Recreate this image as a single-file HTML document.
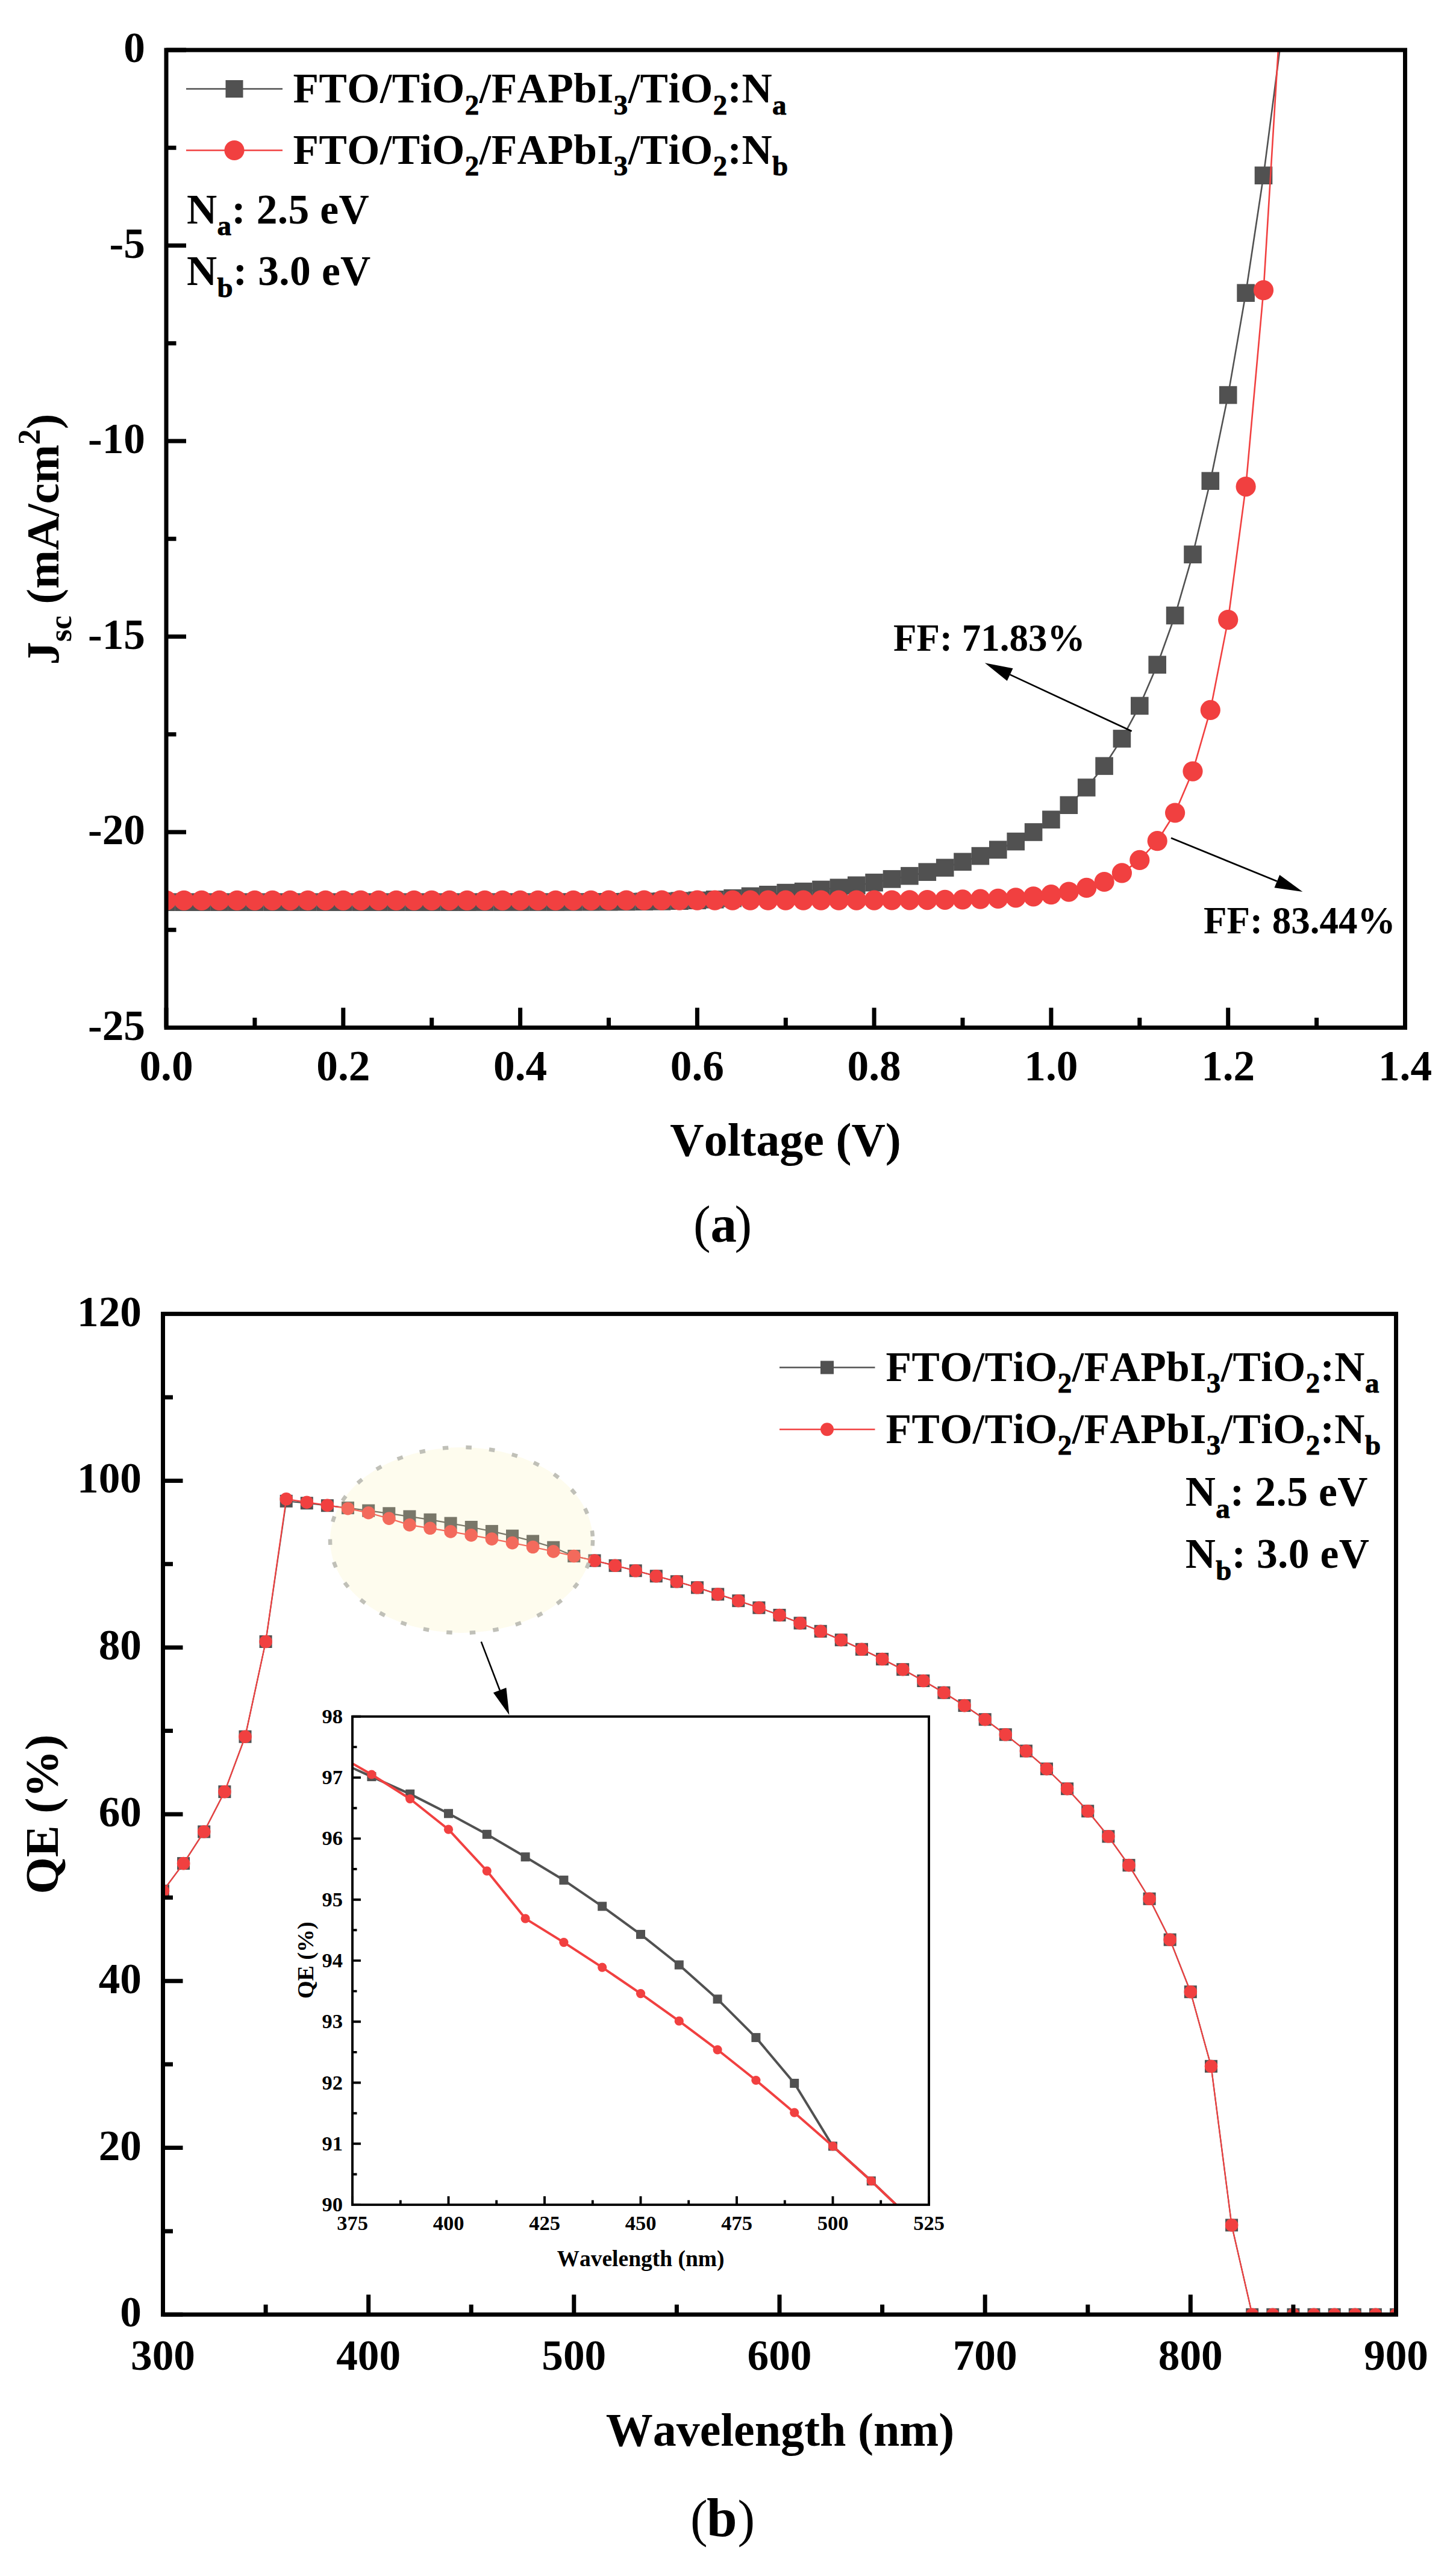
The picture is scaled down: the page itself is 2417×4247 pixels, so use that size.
<!DOCTYPE html>
<html lang="en"><head><meta charset="utf-8"><title>J-V and QE curves</title>
<style>html,body{margin:0;padding:0;background:#fff}svg{display:block}text{font-family:"Liberation Serif",serif;font-weight:bold;fill:#000;font-kerning:none}.cap{font-weight:normal}</style></head><body>
<svg width="2417" height="4247" viewBox="0 0 2417 4247">
<rect width="2417" height="4247" fill="#fff"/>
<defs>
<clipPath id="ca"><rect x="276" y="83" width="2056.5" height="1622.5"/></clipPath>
<clipPath id="cb"><rect x="270.5" y="2180.6" width="2047" height="1660.7"/></clipPath>
<clipPath id="ci"><rect x="585" y="2848.8" width="957" height="810.3"/></clipPath>
</defs>
<g clip-path="url(#ca)">
<polyline fill="none" stroke="#515151" stroke-width="2.6" stroke-linejoin="round" points="276.0,1497.2 305.4,1497.2 334.8,1497.2 364.1,1497.2 393.5,1497.2 422.9,1497.2 452.3,1497.2 481.7,1497.2 511.0,1497.2 540.4,1497.2 569.8,1497.2 599.2,1497.2 628.5,1497.2 657.9,1497.2 687.3,1497.2 716.7,1497.2 746.1,1497.2 775.4,1497.2 804.8,1497.1 834.2,1497.1 863.6,1497.1 893.0,1497.1 922.3,1497.1 951.7,1497.0 981.1,1496.9 1010.5,1496.8 1039.8,1496.6 1069.2,1496.3 1098.6,1495.9 1128.0,1495.2 1157.4,1494.3 1186.7,1492.8 1216.1,1490.7 1245.5,1487.4 1274.9,1484.8 1304.2,1481.6 1333.6,1479.6 1363.0,1476.4 1392.4,1473.2 1421.8,1469.3 1451.1,1464.7 1480.5,1458.9 1509.9,1453.7 1539.3,1447.2 1568.7,1440.1 1598.0,1430.3 1627.4,1420.6 1656.8,1410.2 1686.2,1396.6 1715.5,1381.0 1744.9,1360.2 1774.3,1336.2 1803.7,1307.0 1833.1,1271.3 1862.4,1225.9 1891.8,1171.4 1921.2,1103.2 1950.6,1021.5 1980.0,920.2 2009.3,798.2 2038.7,655.6 2068.1,486.2 2097.5,291.2 2126.9,63.7" />
<rect x="261.2" y="1482.4" width="29.6" height="29.6" fill="#515151"/><rect x="290.6" y="1482.4" width="29.6" height="29.6" fill="#515151"/><rect x="320.0" y="1482.4" width="29.6" height="29.6" fill="#515151"/><rect x="349.3" y="1482.4" width="29.6" height="29.6" fill="#515151"/><rect x="378.7" y="1482.4" width="29.6" height="29.6" fill="#515151"/><rect x="408.1" y="1482.4" width="29.6" height="29.6" fill="#515151"/><rect x="437.5" y="1482.4" width="29.6" height="29.6" fill="#515151"/><rect x="466.9" y="1482.4" width="29.6" height="29.6" fill="#515151"/><rect x="496.2" y="1482.4" width="29.6" height="29.6" fill="#515151"/><rect x="525.6" y="1482.4" width="29.6" height="29.6" fill="#515151"/><rect x="555.0" y="1482.4" width="29.6" height="29.6" fill="#515151"/><rect x="584.4" y="1482.4" width="29.6" height="29.6" fill="#515151"/><rect x="613.7" y="1482.4" width="29.6" height="29.6" fill="#515151"/><rect x="643.1" y="1482.4" width="29.6" height="29.6" fill="#515151"/><rect x="672.5" y="1482.4" width="29.6" height="29.6" fill="#515151"/><rect x="701.9" y="1482.4" width="29.6" height="29.6" fill="#515151"/><rect x="731.3" y="1482.4" width="29.6" height="29.6" fill="#515151"/><rect x="760.6" y="1482.4" width="29.6" height="29.6" fill="#515151"/><rect x="790.0" y="1482.3" width="29.6" height="29.6" fill="#515151"/><rect x="819.4" y="1482.3" width="29.6" height="29.6" fill="#515151"/><rect x="848.8" y="1482.3" width="29.6" height="29.6" fill="#515151"/><rect x="878.2" y="1482.3" width="29.6" height="29.6" fill="#515151"/><rect x="907.5" y="1482.3" width="29.6" height="29.6" fill="#515151"/><rect x="936.9" y="1482.2" width="29.6" height="29.6" fill="#515151"/><rect x="966.3" y="1482.1" width="29.6" height="29.6" fill="#515151"/><rect x="995.7" y="1482.0" width="29.6" height="29.6" fill="#515151"/><rect x="1025.0" y="1481.8" width="29.6" height="29.6" fill="#515151"/><rect x="1054.4" y="1481.5" width="29.6" height="29.6" fill="#515151"/><rect x="1083.8" y="1481.1" width="29.6" height="29.6" fill="#515151"/><rect x="1113.2" y="1480.4" width="29.6" height="29.6" fill="#515151"/><rect x="1142.6" y="1479.5" width="29.6" height="29.6" fill="#515151"/><rect x="1171.9" y="1478.0" width="29.6" height="29.6" fill="#515151"/><rect x="1201.3" y="1475.9" width="29.6" height="29.6" fill="#515151"/><rect x="1230.7" y="1472.6" width="29.6" height="29.6" fill="#515151"/><rect x="1260.1" y="1470.0" width="29.6" height="29.6" fill="#515151"/><rect x="1289.5" y="1466.8" width="29.6" height="29.6" fill="#515151"/><rect x="1318.8" y="1464.8" width="29.6" height="29.6" fill="#515151"/><rect x="1348.2" y="1461.6" width="29.6" height="29.6" fill="#515151"/><rect x="1377.6" y="1458.4" width="29.6" height="29.6" fill="#515151"/><rect x="1407.0" y="1454.5" width="29.6" height="29.6" fill="#515151"/><rect x="1436.3" y="1449.9" width="29.6" height="29.6" fill="#515151"/><rect x="1465.7" y="1444.1" width="29.6" height="29.6" fill="#515151"/><rect x="1495.1" y="1438.9" width="29.6" height="29.6" fill="#515151"/><rect x="1524.5" y="1432.4" width="29.6" height="29.6" fill="#515151"/><rect x="1553.9" y="1425.3" width="29.6" height="29.6" fill="#515151"/><rect x="1583.2" y="1415.5" width="29.6" height="29.6" fill="#515151"/><rect x="1612.6" y="1405.8" width="29.6" height="29.6" fill="#515151"/><rect x="1642.0" y="1395.4" width="29.6" height="29.6" fill="#515151"/><rect x="1671.4" y="1381.8" width="29.6" height="29.6" fill="#515151"/><rect x="1700.8" y="1366.2" width="29.6" height="29.6" fill="#515151"/><rect x="1730.1" y="1345.4" width="29.6" height="29.6" fill="#515151"/><rect x="1759.5" y="1321.4" width="29.6" height="29.6" fill="#515151"/><rect x="1788.9" y="1292.2" width="29.6" height="29.6" fill="#515151"/><rect x="1818.3" y="1256.5" width="29.6" height="29.6" fill="#515151"/><rect x="1847.6" y="1211.1" width="29.6" height="29.6" fill="#515151"/><rect x="1877.0" y="1156.6" width="29.6" height="29.6" fill="#515151"/><rect x="1906.4" y="1088.4" width="29.6" height="29.6" fill="#515151"/><rect x="1935.8" y="1006.7" width="29.6" height="29.6" fill="#515151"/><rect x="1965.2" y="905.4" width="29.6" height="29.6" fill="#515151"/><rect x="1994.5" y="783.4" width="29.6" height="29.6" fill="#515151"/><rect x="2023.9" y="640.8" width="29.6" height="29.6" fill="#515151"/><rect x="2053.3" y="471.4" width="29.6" height="29.6" fill="#515151"/><rect x="2082.7" y="276.4" width="29.6" height="29.6" fill="#515151"/><rect x="2112.1" y="48.9" width="29.6" height="29.6" fill="#515151"/>
<polyline fill="none" stroke="#F14040" stroke-width="2.6" stroke-linejoin="round" points="276.0,1494.3 305.4,1494.3 334.8,1494.3 364.1,1494.3 393.5,1494.3 422.9,1494.3 452.3,1494.3 481.7,1494.3 511.0,1494.3 540.4,1494.3 569.8,1494.3 599.2,1494.3 628.5,1494.3 657.9,1494.3 687.3,1494.3 716.7,1494.3 746.1,1494.3 775.4,1494.3 804.8,1494.3 834.2,1494.3 863.6,1494.3 893.0,1494.3 922.3,1494.3 951.7,1494.3 981.1,1494.3 1010.5,1494.2 1039.8,1494.2 1069.2,1494.2 1098.6,1494.2 1128.0,1494.2 1157.4,1494.2 1186.7,1494.2 1216.1,1494.2 1245.5,1494.2 1274.9,1494.2 1304.2,1494.2 1333.6,1494.2 1363.0,1494.2 1392.4,1494.2 1421.8,1494.1 1451.1,1494.1 1480.5,1494.0 1509.9,1493.8 1539.3,1493.6 1568.7,1493.3 1598.0,1492.9 1627.4,1492.2 1656.8,1491.3 1686.2,1489.8 1715.5,1487.8 1744.9,1484.7 1774.3,1480.1 1803.7,1473.4 1833.1,1463.5 1862.4,1448.9 1891.8,1427.4 1921.2,1395.7 1950.6,1349.0 1980.0,1280.1 2009.3,1178.4 2038.7,1028.6 2068.1,807.6 2097.5,481.7 2126.9,1.3" />
<circle cx="276.0" cy="1494.3" r="16.6" fill="#F14040"/><circle cx="305.4" cy="1494.3" r="16.6" fill="#F14040"/><circle cx="334.8" cy="1494.3" r="16.6" fill="#F14040"/><circle cx="364.1" cy="1494.3" r="16.6" fill="#F14040"/><circle cx="393.5" cy="1494.3" r="16.6" fill="#F14040"/><circle cx="422.9" cy="1494.3" r="16.6" fill="#F14040"/><circle cx="452.3" cy="1494.3" r="16.6" fill="#F14040"/><circle cx="481.7" cy="1494.3" r="16.6" fill="#F14040"/><circle cx="511.0" cy="1494.3" r="16.6" fill="#F14040"/><circle cx="540.4" cy="1494.3" r="16.6" fill="#F14040"/><circle cx="569.8" cy="1494.3" r="16.6" fill="#F14040"/><circle cx="599.2" cy="1494.3" r="16.6" fill="#F14040"/><circle cx="628.5" cy="1494.3" r="16.6" fill="#F14040"/><circle cx="657.9" cy="1494.3" r="16.6" fill="#F14040"/><circle cx="687.3" cy="1494.3" r="16.6" fill="#F14040"/><circle cx="716.7" cy="1494.3" r="16.6" fill="#F14040"/><circle cx="746.1" cy="1494.3" r="16.6" fill="#F14040"/><circle cx="775.4" cy="1494.3" r="16.6" fill="#F14040"/><circle cx="804.8" cy="1494.3" r="16.6" fill="#F14040"/><circle cx="834.2" cy="1494.3" r="16.6" fill="#F14040"/><circle cx="863.6" cy="1494.3" r="16.6" fill="#F14040"/><circle cx="893.0" cy="1494.3" r="16.6" fill="#F14040"/><circle cx="922.3" cy="1494.3" r="16.6" fill="#F14040"/><circle cx="951.7" cy="1494.3" r="16.6" fill="#F14040"/><circle cx="981.1" cy="1494.3" r="16.6" fill="#F14040"/><circle cx="1010.5" cy="1494.2" r="16.6" fill="#F14040"/><circle cx="1039.8" cy="1494.2" r="16.6" fill="#F14040"/><circle cx="1069.2" cy="1494.2" r="16.6" fill="#F14040"/><circle cx="1098.6" cy="1494.2" r="16.6" fill="#F14040"/><circle cx="1128.0" cy="1494.2" r="16.6" fill="#F14040"/><circle cx="1157.4" cy="1494.2" r="16.6" fill="#F14040"/><circle cx="1186.7" cy="1494.2" r="16.6" fill="#F14040"/><circle cx="1216.1" cy="1494.2" r="16.6" fill="#F14040"/><circle cx="1245.5" cy="1494.2" r="16.6" fill="#F14040"/><circle cx="1274.9" cy="1494.2" r="16.6" fill="#F14040"/><circle cx="1304.2" cy="1494.2" r="16.6" fill="#F14040"/><circle cx="1333.6" cy="1494.2" r="16.6" fill="#F14040"/><circle cx="1363.0" cy="1494.2" r="16.6" fill="#F14040"/><circle cx="1392.4" cy="1494.2" r="16.6" fill="#F14040"/><circle cx="1421.8" cy="1494.1" r="16.6" fill="#F14040"/><circle cx="1451.1" cy="1494.1" r="16.6" fill="#F14040"/><circle cx="1480.5" cy="1494.0" r="16.6" fill="#F14040"/><circle cx="1509.9" cy="1493.8" r="16.6" fill="#F14040"/><circle cx="1539.3" cy="1493.6" r="16.6" fill="#F14040"/><circle cx="1568.7" cy="1493.3" r="16.6" fill="#F14040"/><circle cx="1598.0" cy="1492.9" r="16.6" fill="#F14040"/><circle cx="1627.4" cy="1492.2" r="16.6" fill="#F14040"/><circle cx="1656.8" cy="1491.3" r="16.6" fill="#F14040"/><circle cx="1686.2" cy="1489.8" r="16.6" fill="#F14040"/><circle cx="1715.5" cy="1487.8" r="16.6" fill="#F14040"/><circle cx="1744.9" cy="1484.7" r="16.6" fill="#F14040"/><circle cx="1774.3" cy="1480.1" r="16.6" fill="#F14040"/><circle cx="1803.7" cy="1473.4" r="16.6" fill="#F14040"/><circle cx="1833.1" cy="1463.5" r="16.6" fill="#F14040"/><circle cx="1862.4" cy="1448.9" r="16.6" fill="#F14040"/><circle cx="1891.8" cy="1427.4" r="16.6" fill="#F14040"/><circle cx="1921.2" cy="1395.7" r="16.6" fill="#F14040"/><circle cx="1950.6" cy="1349.0" r="16.6" fill="#F14040"/><circle cx="1980.0" cy="1280.1" r="16.6" fill="#F14040"/><circle cx="2009.3" cy="1178.4" r="16.6" fill="#F14040"/><circle cx="2038.7" cy="1028.6" r="16.6" fill="#F14040"/><circle cx="2068.1" cy="807.6" r="16.6" fill="#F14040"/><circle cx="2097.5" cy="481.7" r="16.6" fill="#F14040"/><circle cx="2126.9" cy="1.3" r="16.6" fill="#F14040"/>
</g>
<rect x="276.0" y="83.0" width="2056.5" height="1622.5" fill="none" stroke="#000" stroke-width="7"/>
<path d="M276.0 1705.5v-33 M422.9 1705.5v-16.5 M569.8 1705.5v-33 M716.7 1705.5v-16.5 M863.6 1705.5v-33 M1010.5 1705.5v-16.5 M1157.4 1705.5v-33 M1304.3 1705.5v-16.5 M1451.1 1705.5v-33 M1598.0 1705.5v-16.5 M1744.9 1705.5v-33 M1891.8 1705.5v-16.5 M2038.7 1705.5v-33 M2185.6 1705.5v-16.5 M2332.5 1705.5v-33 M276.0 83.0h33 M276.0 245.2h16.5 M276.0 407.5h33 M276.0 569.8h16.5 M276.0 732.0h33 M276.0 894.2h16.5 M276.0 1056.5h33 M276.0 1218.8h16.5 M276.0 1381.0h33 M276.0 1543.2h16.5 M276.0 1705.5h33" stroke="#000" stroke-width="7" fill="none"/>
<text x="276.0" y="1793" font-size="71.3" text-anchor="middle">0.0</text>
<text x="569.8" y="1793" font-size="71.3" text-anchor="middle">0.2</text>
<text x="863.6" y="1793" font-size="71.3" text-anchor="middle">0.4</text>
<text x="1157.4" y="1793" font-size="71.3" text-anchor="middle">0.6</text>
<text x="1451.1" y="1793" font-size="71.3" text-anchor="middle">0.8</text>
<text x="1744.9" y="1793" font-size="71.3" text-anchor="middle">1.0</text>
<text x="2038.7" y="1793" font-size="71.3" text-anchor="middle">1.2</text>
<text x="2332.5" y="1793" font-size="71.3" text-anchor="middle">1.4</text>
<text x="241" y="103.0" font-size="71.3" text-anchor="end">0</text>
<text x="241" y="427.5" font-size="71.3" text-anchor="end">-5</text>
<text x="241" y="752.0" font-size="71.3" text-anchor="end">-10</text>
<text x="241" y="1076.5" font-size="71.3" text-anchor="end">-15</text>
<text x="241" y="1401.0" font-size="71.3" text-anchor="end">-20</text>
<text x="241" y="1725.5" font-size="71.3" text-anchor="end">-25</text>
<text x="1304" y="1917.5" font-size="78" text-anchor="middle">Voltage (V)</text>
<text transform="translate(97.3,895) rotate(-90)" font-size="76.8" text-anchor="middle">J<tspan font-size="52" dy="21">sc</tspan><tspan dy="-21"> (mA/cm</tspan><tspan font-size="52" dy="-31">2</tspan><tspan dy="31">)</tspan></text>
<path d="M309 147.5H469" stroke="#515151" stroke-width="2.6"/><rect x="374.5" y="133" width="29" height="29" fill="#515151"/>
<path d="M309 249.5H469" stroke="#F14040" stroke-width="2.6"/><circle cx="389" cy="249.5" r="16.6" fill="#F14040"/>
<text x="486.6" y="170.3" font-size="69.5" letter-spacing="0.48" text-anchor="start">FTO/TiO<tspan font-size="47" dy="19.5" stroke="#000" stroke-width="0.9">2</tspan><tspan dy="-19.5">/FAPbI</tspan><tspan font-size="47" dy="19.5" stroke="#000" stroke-width="0.9">3</tspan><tspan dy="-19.5">/TiO</tspan><tspan font-size="47" dy="19.5" stroke="#000" stroke-width="0.9">2</tspan><tspan dy="-19.5">:N</tspan><tspan font-size="47" dy="19.5" stroke="#000" stroke-width="0.9">a</tspan></text>
<text x="486.6" y="271.6" font-size="69.5" letter-spacing="0.48" text-anchor="start">FTO/TiO<tspan font-size="47" dy="19.5" stroke="#000" stroke-width="0.9">2</tspan><tspan dy="-19.5">/FAPbI</tspan><tspan font-size="47" dy="19.5" stroke="#000" stroke-width="0.9">3</tspan><tspan dy="-19.5">/TiO</tspan><tspan font-size="47" dy="19.5" stroke="#000" stroke-width="0.9">2</tspan><tspan dy="-19.5">:N</tspan><tspan font-size="47" dy="19.5" stroke="#000" stroke-width="0.9">b</tspan></text>
<text x="310" y="370.7" font-size="69.5" letter-spacing="0.35">N<tspan font-size="47" dy="19.5" stroke="#000" stroke-width="0.9">a</tspan><tspan dy="-19.5">: 2.5 eV</tspan></text>
<text x="310" y="473" font-size="69.5" letter-spacing="0.35">N<tspan font-size="47" dy="19.5" stroke="#000" stroke-width="0.9">b</tspan><tspan dy="-19.5">: 3.0 eV</tspan></text>
<path d="M1878.7 1213.5L1676.6 1119.6" stroke="#000" stroke-width="2.7" fill="none"/><path d="M1634.9 1100.2L1681.5 1109.2L1671.8 1130.0Z" fill="#000"/>
<path d="M1944.0 1390.7L2119.8 1462.6" stroke="#000" stroke-width="2.7" fill="none"/><path d="M2162.4 1480.0L2115.5 1473.2L2124.2 1451.9Z" fill="#000"/>
<text x="1483" y="1079.6" font-size="63">FF: 71.83%</text>
<text x="1998" y="1548.7" font-size="63">FF: 83.44%</text>
<text class="cap" y="2061" font-size="86"><tspan x="1151">(</tspan><tspan x="1179.5" font-weight="bold" font-size="87">a</tspan><tspan x="1219.5">)</tspan></text>
<g clip-path="url(#cb)">
<polyline fill="none" stroke="#515151" stroke-width="2.2" stroke-linejoin="round" points="270.5,3138.3 304.6,3092.6 338.7,3040.0 372.9,2973.6 407.0,2882.2 441.1,2724.5 475.2,2491.3 509.3,2494.7 543.4,2498.7 577.5,2502.6 611.7,2507.1 645.8,2511.8 679.9,2516.9 714.0,2522.2 748.1,2528.1 782.2,2534.5 816.4,2541.4 850.5,2549.1 884.6,2557.9 918.7,2568.2 952.8,2582.5 987.0,2590.0 1021.1,2598.3 1055.2,2606.8 1089.3,2615.8 1123.4,2624.8 1157.5,2634.8 1191.7,2645.9 1225.8,2656.7 1259.9,2668.2 1294.0,2680.5 1328.1,2693.8 1362.2,2707.3 1396.3,2721.7 1430.5,2737.3 1464.6,2753.5 1498.7,2770.7 1532.8,2789.5 1566.9,2809.2 1601.0,2830.6 1635.2,2853.7 1669.3,2878.8 1703.4,2906.0 1737.5,2935.7 1771.6,2968.7 1805.8,3005.8 1839.9,3047.8 1874.0,3095.6 1908.1,3151.3 1942.2,3219.2 1976.3,3305.7 2010.5,3429.3 2044.6,3692.9 2078.7,3841.3 2112.8,3841.3 2146.9,3841.3 2181.0,3841.3 2215.2,3841.3 2249.3,3841.3 2283.4,3841.3 2317.5,3841.3" />
<rect x="260.0" y="3127.8" width="21" height="21" fill="#515151"/><rect x="294.1" y="3082.1" width="21" height="21" fill="#515151"/><rect x="328.2" y="3029.5" width="21" height="21" fill="#515151"/><rect x="362.4" y="2963.1" width="21" height="21" fill="#515151"/><rect x="396.5" y="2871.7" width="21" height="21" fill="#515151"/><rect x="430.6" y="2714.0" width="21" height="21" fill="#515151"/><rect x="464.7" y="2480.8" width="21" height="21" fill="#515151"/><rect x="498.8" y="2484.2" width="21" height="21" fill="#515151"/><rect x="532.9" y="2488.2" width="21" height="21" fill="#515151"/><rect x="567.0" y="2492.1" width="21" height="21" fill="#515151"/><rect x="601.2" y="2496.6" width="21" height="21" fill="#515151"/><rect x="635.3" y="2501.3" width="21" height="21" fill="#515151"/><rect x="669.4" y="2506.4" width="21" height="21" fill="#515151"/><rect x="703.5" y="2511.7" width="21" height="21" fill="#515151"/><rect x="737.6" y="2517.6" width="21" height="21" fill="#515151"/><rect x="771.8" y="2524.0" width="21" height="21" fill="#515151"/><rect x="805.9" y="2530.9" width="21" height="21" fill="#515151"/><rect x="840.0" y="2538.6" width="21" height="21" fill="#515151"/><rect x="874.1" y="2547.4" width="21" height="21" fill="#515151"/><rect x="908.2" y="2557.7" width="21" height="21" fill="#515151"/><rect x="942.3" y="2572.0" width="21" height="21" fill="#515151"/><rect x="976.5" y="2579.5" width="21" height="21" fill="#515151"/><rect x="1010.6" y="2587.8" width="21" height="21" fill="#515151"/><rect x="1044.7" y="2596.3" width="21" height="21" fill="#515151"/><rect x="1078.8" y="2605.3" width="21" height="21" fill="#515151"/><rect x="1112.9" y="2614.3" width="21" height="21" fill="#515151"/><rect x="1147.0" y="2624.3" width="21" height="21" fill="#515151"/><rect x="1181.2" y="2635.4" width="21" height="21" fill="#515151"/><rect x="1215.3" y="2646.2" width="21" height="21" fill="#515151"/><rect x="1249.4" y="2657.7" width="21" height="21" fill="#515151"/><rect x="1283.5" y="2670.0" width="21" height="21" fill="#515151"/><rect x="1317.6" y="2683.3" width="21" height="21" fill="#515151"/><rect x="1351.7" y="2696.8" width="21" height="21" fill="#515151"/><rect x="1385.8" y="2711.2" width="21" height="21" fill="#515151"/><rect x="1420.0" y="2726.8" width="21" height="21" fill="#515151"/><rect x="1454.1" y="2743.0" width="21" height="21" fill="#515151"/><rect x="1488.2" y="2760.2" width="21" height="21" fill="#515151"/><rect x="1522.3" y="2779.0" width="21" height="21" fill="#515151"/><rect x="1556.4" y="2798.7" width="21" height="21" fill="#515151"/><rect x="1590.5" y="2820.1" width="21" height="21" fill="#515151"/><rect x="1624.7" y="2843.2" width="21" height="21" fill="#515151"/><rect x="1658.8" y="2868.3" width="21" height="21" fill="#515151"/><rect x="1692.9" y="2895.5" width="21" height="21" fill="#515151"/><rect x="1727.0" y="2925.2" width="21" height="21" fill="#515151"/><rect x="1761.1" y="2958.2" width="21" height="21" fill="#515151"/><rect x="1795.2" y="2995.3" width="21" height="21" fill="#515151"/><rect x="1829.4" y="3037.3" width="21" height="21" fill="#515151"/><rect x="1863.5" y="3085.1" width="21" height="21" fill="#515151"/><rect x="1897.6" y="3140.8" width="21" height="21" fill="#515151"/><rect x="1931.7" y="3208.7" width="21" height="21" fill="#515151"/><rect x="1965.8" y="3295.2" width="21" height="21" fill="#515151"/><rect x="2000.0" y="3418.8" width="21" height="21" fill="#515151"/><rect x="2034.1" y="3682.4" width="21" height="21" fill="#515151"/><rect x="2068.2" y="3830.8" width="21" height="21" fill="#515151"/><rect x="2102.3" y="3830.8" width="21" height="21" fill="#515151"/><rect x="2136.4" y="3830.8" width="21" height="21" fill="#515151"/><rect x="2170.5" y="3830.8" width="21" height="21" fill="#515151"/><rect x="2204.7" y="3830.8" width="21" height="21" fill="#515151"/><rect x="2238.8" y="3830.8" width="21" height="21" fill="#515151"/><rect x="2272.9" y="3830.8" width="21" height="21" fill="#515151"/><rect x="2307.0" y="3830.8" width="21" height="21" fill="#515151"/>
<polyline fill="none" stroke="#F14040" stroke-width="2.2" stroke-linejoin="round" points="270.5,3138.3 304.6,3092.6 338.7,3040.0 372.9,2973.6 407.0,2882.2 441.1,2724.5 475.2,2487.8 509.3,2493.2 543.4,2498.2 577.5,2503.7 611.7,2510.7 645.8,2520.1 679.9,2530.9 714.0,2536.3 748.1,2541.9 782.2,2547.9 816.4,2554.1 850.5,2560.6 884.6,2567.5 918.7,2574.9 952.8,2582.5 987.0,2590.0 1021.1,2598.3 1055.2,2606.8 1089.3,2615.8 1123.4,2624.8 1157.5,2634.8 1191.7,2645.9 1225.8,2656.7 1259.9,2668.2 1294.0,2680.5 1328.1,2693.8 1362.2,2707.3 1396.3,2721.7 1430.5,2737.3 1464.6,2753.5 1498.7,2770.7 1532.8,2789.5 1566.9,2809.2 1601.0,2830.6 1635.2,2853.7 1669.3,2878.8 1703.4,2906.0 1737.5,2935.7 1771.6,2968.7 1805.8,3005.8 1839.9,3047.8 1874.0,3095.6 1908.1,3151.3 1942.2,3219.2 1976.3,3305.7 2010.5,3429.3 2044.6,3692.9 2078.7,3841.3 2112.8,3841.3 2146.9,3841.3 2181.0,3841.3 2215.2,3841.3 2249.3,3841.3 2283.4,3841.3 2317.5,3841.3" />
<circle cx="270.5" cy="3138.3" r="10.8" fill="#F14040"/><circle cx="304.6" cy="3092.6" r="10.8" fill="#F14040"/><circle cx="338.7" cy="3040.0" r="10.8" fill="#F14040"/><circle cx="372.9" cy="2973.6" r="10.8" fill="#F14040"/><circle cx="407.0" cy="2882.2" r="10.8" fill="#F14040"/><circle cx="441.1" cy="2724.5" r="10.8" fill="#F14040"/><circle cx="475.2" cy="2487.8" r="10.8" fill="#F14040"/><circle cx="509.3" cy="2493.2" r="10.8" fill="#F14040"/><circle cx="543.4" cy="2498.2" r="10.8" fill="#F14040"/><circle cx="577.5" cy="2503.7" r="10.8" fill="#F14040"/><circle cx="611.7" cy="2510.7" r="10.8" fill="#F14040"/><circle cx="645.8" cy="2520.1" r="10.8" fill="#F14040"/><circle cx="679.9" cy="2530.9" r="10.8" fill="#F14040"/><circle cx="714.0" cy="2536.3" r="10.8" fill="#F14040"/><circle cx="748.1" cy="2541.9" r="10.8" fill="#F14040"/><circle cx="782.2" cy="2547.9" r="10.8" fill="#F14040"/><circle cx="816.4" cy="2554.1" r="10.8" fill="#F14040"/><circle cx="850.5" cy="2560.6" r="10.8" fill="#F14040"/><circle cx="884.6" cy="2567.5" r="10.8" fill="#F14040"/><circle cx="918.7" cy="2574.9" r="10.8" fill="#F14040"/><circle cx="952.8" cy="2582.5" r="10.8" fill="#F14040"/><circle cx="987.0" cy="2590.0" r="10.8" fill="#F14040"/><circle cx="1021.1" cy="2598.3" r="10.8" fill="#F14040"/><circle cx="1055.2" cy="2606.8" r="10.8" fill="#F14040"/><circle cx="1089.3" cy="2615.8" r="10.8" fill="#F14040"/><circle cx="1123.4" cy="2624.8" r="10.8" fill="#F14040"/><circle cx="1157.5" cy="2634.8" r="10.8" fill="#F14040"/><circle cx="1191.7" cy="2645.9" r="10.8" fill="#F14040"/><circle cx="1225.8" cy="2656.7" r="10.8" fill="#F14040"/><circle cx="1259.9" cy="2668.2" r="10.8" fill="#F14040"/><circle cx="1294.0" cy="2680.5" r="10.8" fill="#F14040"/><circle cx="1328.1" cy="2693.8" r="10.8" fill="#F14040"/><circle cx="1362.2" cy="2707.3" r="10.8" fill="#F14040"/><circle cx="1396.3" cy="2721.7" r="10.8" fill="#F14040"/><circle cx="1430.5" cy="2737.3" r="10.8" fill="#F14040"/><circle cx="1464.6" cy="2753.5" r="10.8" fill="#F14040"/><circle cx="1498.7" cy="2770.7" r="10.8" fill="#F14040"/><circle cx="1532.8" cy="2789.5" r="10.8" fill="#F14040"/><circle cx="1566.9" cy="2809.2" r="10.8" fill="#F14040"/><circle cx="1601.0" cy="2830.6" r="10.8" fill="#F14040"/><circle cx="1635.2" cy="2853.7" r="10.8" fill="#F14040"/><circle cx="1669.3" cy="2878.8" r="10.8" fill="#F14040"/><circle cx="1703.4" cy="2906.0" r="10.8" fill="#F14040"/><circle cx="1737.5" cy="2935.7" r="10.8" fill="#F14040"/><circle cx="1771.6" cy="2968.7" r="10.8" fill="#F14040"/><circle cx="1805.8" cy="3005.8" r="10.8" fill="#F14040"/><circle cx="1839.9" cy="3047.8" r="10.8" fill="#F14040"/><circle cx="1874.0" cy="3095.6" r="10.8" fill="#F14040"/><circle cx="1908.1" cy="3151.3" r="10.8" fill="#F14040"/><circle cx="1942.2" cy="3219.2" r="10.8" fill="#F14040"/><circle cx="1976.3" cy="3305.7" r="10.8" fill="#F14040"/><circle cx="2010.5" cy="3429.3" r="10.8" fill="#F14040"/><circle cx="2044.6" cy="3692.9" r="10.8" fill="#F14040"/><circle cx="2078.7" cy="3841.3" r="10.8" fill="#F14040"/><circle cx="2112.8" cy="3841.3" r="10.8" fill="#F14040"/><circle cx="2146.9" cy="3841.3" r="10.8" fill="#F14040"/><circle cx="2181.0" cy="3841.3" r="10.8" fill="#F14040"/><circle cx="2215.2" cy="3841.3" r="10.8" fill="#F14040"/><circle cx="2249.3" cy="3841.3" r="10.8" fill="#F14040"/><circle cx="2283.4" cy="3841.3" r="10.8" fill="#F14040"/><circle cx="2317.5" cy="3841.3" r="10.8" fill="#F14040"/>
</g>
<ellipse cx="766" cy="2556" rx="218" ry="154" fill="rgb(251,242,183)" fill-opacity="0.235" stroke="#c0c0b8" stroke-width="6.5" stroke-dasharray="9.5 29.2"/>
<path d="M798.8 2724.6L829.7 2805.2" stroke="#000" stroke-width="2.6" fill="none"/><path d="M845.4 2846.3L818.9 2809.3L840.4 2801.1Z" fill="#000"/>
<rect x="270.5" y="2180.6" width="2047.0" height="1660.7000000000003" fill="none" stroke="#000" stroke-width="7"/>
<path d="M270.5 3841.3v-33 M441.1 3841.3v-16.5 M611.7 3841.3v-33 M782.2 3841.3v-16.5 M952.8 3841.3v-33 M1123.4 3841.3v-16.5 M1294.0 3841.3v-33 M1464.6 3841.3v-16.5 M1635.2 3841.3v-33 M1805.8 3841.3v-16.5 M1976.3 3841.3v-33 M2146.9 3841.3v-16.5 M2317.5 3841.3v-33 M270.5 3841.3h33 M270.5 3702.9h16.5 M270.5 3564.5h33 M270.5 3426.1h16.5 M270.5 3287.7h33 M270.5 3149.3h16.5 M270.5 3010.9h33 M270.5 2872.6h16.5 M270.5 2734.2h33 M270.5 2595.8h16.5 M270.5 2457.4h33 M270.5 2319.0h16.5 M270.5 2180.6h33" stroke="#000" stroke-width="7" fill="none"/>
<text x="270.5" y="3932.5" font-size="71.3" text-anchor="middle">300</text>
<text x="611.7" y="3932.5" font-size="71.3" text-anchor="middle">400</text>
<text x="952.8" y="3932.5" font-size="71.3" text-anchor="middle">500</text>
<text x="1294.0" y="3932.5" font-size="71.3" text-anchor="middle">600</text>
<text x="1635.2" y="3932.5" font-size="71.3" text-anchor="middle">700</text>
<text x="1976.3" y="3932.5" font-size="71.3" text-anchor="middle">800</text>
<text x="2317.5" y="3932.5" font-size="71.3" text-anchor="middle">900</text>
<text x="235" y="3861.3" font-size="71.3" text-anchor="end">0</text>
<text x="235" y="3584.5" font-size="71.3" text-anchor="end">20</text>
<text x="235" y="3307.7" font-size="71.3" text-anchor="end">40</text>
<text x="235" y="3030.9" font-size="71.3" text-anchor="end">60</text>
<text x="235" y="2754.2" font-size="71.3" text-anchor="end">80</text>
<text x="235" y="2477.4" font-size="71.3" text-anchor="end">100</text>
<text x="235" y="2200.6" font-size="71.3" text-anchor="end">120</text>
<text x="1295" y="4059.3" font-size="78" text-anchor="middle">Wavelength (nm)</text>
<text transform="translate(95.8,3011) rotate(-90)" font-size="78.8" text-anchor="middle">QE (%)</text>
<path d="M1294 2269.5H1452.5" stroke="#515151" stroke-width="2.4"/><rect x="1362" y="2258.5" width="22" height="22" fill="#515151"/>
<path d="M1294 2372.3H1452.5" stroke="#F14040" stroke-width="2.4"/><circle cx="1373" cy="2372.3" r="11" fill="#F14040"/>
<text x="1470.5" y="2291.7" font-size="69.5" letter-spacing="0.48" text-anchor="start">FTO/TiO<tspan font-size="47" dy="19.5" stroke="#000" stroke-width="0.9">2</tspan><tspan dy="-19.5">/FAPbI</tspan><tspan font-size="47" dy="19.5" stroke="#000" stroke-width="0.9">3</tspan><tspan dy="-19.5">/TiO</tspan><tspan font-size="47" dy="19.5" stroke="#000" stroke-width="0.9">2</tspan><tspan dy="-19.5">:N</tspan><tspan font-size="47" dy="19.5" stroke="#000" stroke-width="0.9">a</tspan></text>
<text x="1470.5" y="2394.5" font-size="69.5" letter-spacing="0.48" text-anchor="start">FTO/TiO<tspan font-size="47" dy="19.5" stroke="#000" stroke-width="0.9">2</tspan><tspan dy="-19.5">/FAPbI</tspan><tspan font-size="47" dy="19.5" stroke="#000" stroke-width="0.9">3</tspan><tspan dy="-19.5">/TiO</tspan><tspan font-size="47" dy="19.5" stroke="#000" stroke-width="0.9">2</tspan><tspan dy="-19.5">:N</tspan><tspan font-size="47" dy="19.5" stroke="#000" stroke-width="0.9">b</tspan></text>
<text x="1967.7" y="2499" font-size="69.5" letter-spacing="0.35">N<tspan font-size="47" dy="19.5" stroke="#000" stroke-width="0.9">a</tspan><tspan dy="-19.5">: 2.5 eV</tspan></text>
<text x="1967.7" y="2602" font-size="69.5" letter-spacing="0.35">N<tspan font-size="47" dy="19.5" stroke="#000" stroke-width="0.9">b</tspan><tspan dy="-19.5">: 3.0 eV</tspan></text>
<rect x="585.0" y="2848.8" width="957.0" height="810.2999999999997" fill="#fff"/>
<g clip-path="url(#ci)">
<polyline fill="none" stroke="#515151" stroke-width="4" stroke-linejoin="round" points="553.1,2919.7 616.9,2948.6 680.7,2977.4 744.5,3009.8 808.3,3044.3 872.1,3081.8 935.9,3120.3 999.7,3163.8 1063.5,3210.4 1127.3,3261.0 1191.1,3317.8 1254.9,3381.6 1318.7,3457.5 1382.5,3561.9 1446.3,3619.6 1510.1,3680.4 1573.9,3740.1" />
<rect x="545.6" y="2912.2" width="15" height="15" fill="#515151"/><rect x="609.4" y="2941.1" width="15" height="15" fill="#515151"/><rect x="673.2" y="2969.9" width="15" height="15" fill="#515151"/><rect x="737.0" y="3002.3" width="15" height="15" fill="#515151"/><rect x="800.8" y="3036.8" width="15" height="15" fill="#515151"/><rect x="864.6" y="3074.3" width="15" height="15" fill="#515151"/><rect x="928.4" y="3112.8" width="15" height="15" fill="#515151"/><rect x="992.2" y="3156.3" width="15" height="15" fill="#515151"/><rect x="1056.0" y="3202.9" width="15" height="15" fill="#515151"/><rect x="1119.8" y="3253.5" width="15" height="15" fill="#515151"/><rect x="1183.6" y="3310.3" width="15" height="15" fill="#515151"/><rect x="1247.4" y="3374.1" width="15" height="15" fill="#515151"/><rect x="1311.2" y="3450.0" width="15" height="15" fill="#515151"/><rect x="1375.0" y="3554.4" width="15" height="15" fill="#515151"/><rect x="1438.8" y="3612.1" width="15" height="15" fill="#515151"/><rect x="1502.6" y="3672.9" width="15" height="15" fill="#515151"/><rect x="1566.4" y="3732.6" width="15" height="15" fill="#515151"/>
<polyline fill="none" stroke="#F14040" stroke-width="4" stroke-linejoin="round" points="553.1,2908.6 616.9,2945.0 680.7,2985.5 744.5,3036.2 808.3,3105.1 872.1,3184.1 935.9,3223.6 999.7,3265.1 1063.5,3308.6 1127.3,3354.2 1191.1,3401.8 1254.9,3452.5 1318.7,3506.2 1382.5,3561.9 1446.3,3619.6 1510.1,3680.4 1573.9,3740.1" />
<circle cx="553.1" cy="2908.6" r="7.6" fill="#F14040"/><circle cx="616.9" cy="2945.0" r="7.6" fill="#F14040"/><circle cx="680.7" cy="2985.5" r="7.6" fill="#F14040"/><circle cx="744.5" cy="3036.2" r="7.6" fill="#F14040"/><circle cx="808.3" cy="3105.1" r="7.6" fill="#F14040"/><circle cx="872.1" cy="3184.1" r="7.6" fill="#F14040"/><circle cx="935.9" cy="3223.6" r="7.6" fill="#F14040"/><circle cx="999.7" cy="3265.1" r="7.6" fill="#F14040"/><circle cx="1063.5" cy="3308.6" r="7.6" fill="#F14040"/><circle cx="1127.3" cy="3354.2" r="7.6" fill="#F14040"/><circle cx="1191.1" cy="3401.8" r="7.6" fill="#F14040"/><circle cx="1254.9" cy="3452.5" r="7.6" fill="#F14040"/><circle cx="1318.7" cy="3506.2" r="7.6" fill="#F14040"/><circle cx="1382.5" cy="3561.9" r="7.6" fill="#F14040"/><circle cx="1446.3" cy="3619.6" r="7.6" fill="#F14040"/><circle cx="1510.1" cy="3680.4" r="7.6" fill="#F14040"/><circle cx="1573.9" cy="3740.1" r="7.6" fill="#F14040"/>
</g>
<rect x="585.0" y="2848.8" width="957.0" height="810.2999999999997" fill="none" stroke="#000" stroke-width="3.9"/>
<path d="M585.0 3659.1v-14 M664.8 3659.1v-7.5 M744.5 3659.1v-14 M824.2 3659.1v-7.5 M904.0 3659.1v-14 M983.8 3659.1v-7.5 M1063.5 3659.1v-14 M1143.2 3659.1v-7.5 M1223.0 3659.1v-14 M1302.8 3659.1v-7.5 M1382.5 3659.1v-14 M1462.2 3659.1v-7.5 M1542.0 3659.1v-14 M585.0 3659.1h14 M585.0 3608.5h7.5 M585.0 3557.8h14 M585.0 3507.2h7.5 M585.0 3456.5h14 M585.0 3405.9h7.5 M585.0 3355.2h14 M585.0 3304.6h7.5 M585.0 3253.9h14 M585.0 3203.3h7.5 M585.0 3152.7h14 M585.0 3102.0h7.5 M585.0 3051.4h14 M585.0 3000.7h7.5 M585.0 2950.1h14 M585.0 2899.4h7.5 M585.0 2848.8h14" stroke="#000" stroke-width="3.9" fill="none"/>
<text x="585.0" y="3701.3" font-size="34.5" text-anchor="middle">375</text>
<text x="744.5" y="3701.3" font-size="34.5" text-anchor="middle">400</text>
<text x="904.0" y="3701.3" font-size="34.5" text-anchor="middle">425</text>
<text x="1063.5" y="3701.3" font-size="34.5" text-anchor="middle">450</text>
<text x="1223.0" y="3701.3" font-size="34.5" text-anchor="middle">475</text>
<text x="1382.5" y="3701.3" font-size="34.5" text-anchor="middle">500</text>
<text x="1542.0" y="3701.3" font-size="34.5" text-anchor="middle">525</text>
<text x="569" y="3670.1" font-size="34.5" text-anchor="end">90</text>
<text x="569" y="3568.8" font-size="34.5" text-anchor="end">91</text>
<text x="569" y="3467.5" font-size="34.5" text-anchor="end">92</text>
<text x="569" y="3366.2" font-size="34.5" text-anchor="end">93</text>
<text x="569" y="3264.9" font-size="34.5" text-anchor="end">94</text>
<text x="569" y="3163.7" font-size="34.5" text-anchor="end">95</text>
<text x="569" y="3062.4" font-size="34.5" text-anchor="end">96</text>
<text x="569" y="2961.1" font-size="34.5" text-anchor="end">97</text>
<text x="569" y="2859.8" font-size="34.5" text-anchor="end">98</text>
<text x="1063.5" y="3761.4" font-size="37.5" text-anchor="middle">Wavelength (nm)</text>
<text transform="translate(519.8,3253.2) rotate(-90)" font-size="38" text-anchor="middle">QE (%)</text>
<text class="cap" y="4208.5" font-size="86"><tspan x="1146">(</tspan><tspan x="1173" font-weight="bold" font-size="91">b</tspan><tspan x="1224.5">)</tspan></text>
</svg></body></html>
